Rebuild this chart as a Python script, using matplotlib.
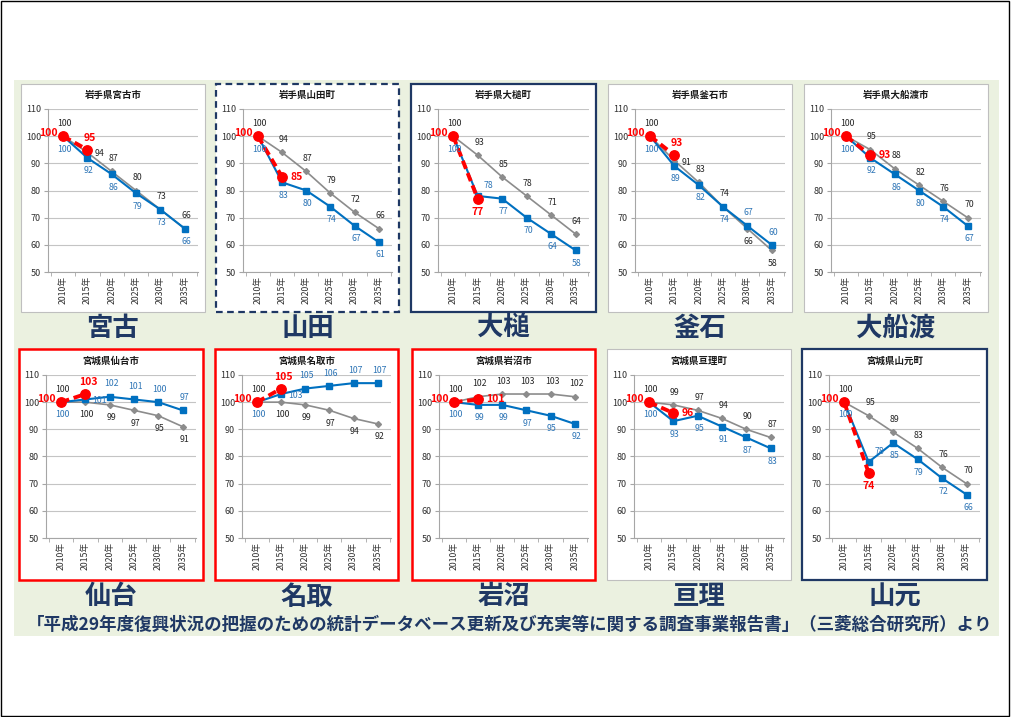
import matplotlib
matplotlib.use('Agg')
import matplotlib.pyplot as plt
from matplotlib.patches import Rectangle

plt.rcParams['font.family'] = ['Noto Sans CJK JP', 'DejaVu Sans']

# ---- data -------------------------------------------------------------
years = ['2010年', '2015年', '2020年', '2025年', '2030年', '2035年']

panel_titles = ['岩手県宮古市', '岩手県山田町', '岩手県大槌町', '岩手県釜石市', '岩手県大船渡市',
                '宮城県仙台市', '宮城県名取市', '宮城県岩沼市', '宮城県亘理町', '宮城県山元町']
town_names = ['宮古', '山田', '大槌', '釜石', '大船渡',
              '仙台', '名取', '岩沼', '亘理', '山元']

# earlier projection (index, 2010 = 100)
previous_projection = [
    [100, 94, 87, 80, 73, 66],
    [100, 94, 87, 79, 72, 66],
    [100, 93, 85, 78, 71, 64],
    [100, 91, 83, 74, 66, 58],
    [100, 95, 88, 82, 76, 70],
    [100, 100, 99, 97, 95, 91],
    [100, 100, 99, 97, 94, 92],
    [100, 102, 103, 103, 103, 102],
    [100, 99, 97, 94, 90, 87],
    [100, 95, 89, 83, 76, 70],
]
# revised projection (index, 2010 = 100)
revised_projection = [
    [100, 92, 86, 79, 73, 66],
    [100, 83, 80, 74, 67, 61],
    [100, 78, 77, 70, 64, 58],
    [100, 89, 82, 74, 67, 60],
    [100, 92, 86, 80, 74, 67],
    [100, 101, 102, 101, 100, 97],
    [100, 103, 105, 106, 107, 107],
    [100, 99, 99, 97, 95, 92],
    [100, 93, 95, 91, 87, 83],
    [100, 78, 85, 79, 72, 66],
]
# census result 2010 -> 2015
census_actual = [
    [100, 95], [100, 85], [100, 77], [100, 93], [100, 93],
    [100, 103], [100, 105], [100, 101], [100, 96], [100, 74],
]

source_note = ('「平成29年度復興状況の把握のための統計データベース更新及び充実等に関する'
               '調査事業報告書」（三菱総合研究所）より')

# ---- layout / style ---------------------------------------------------
W, H = 1011, 717
frame_styles = ['plain', 'navy_dashed', 'navy', 'plain', 'plain',
                'red', 'red', 'red', 'plain', 'navy']
red_label_side = ['above', 'right', 'below', 'above', 'right',
                  'above', 'above', 'right', 'right', 'below']

box_x = [(21, 205), (216, 399), (411, 596), (608, 792), (804, 988),
         (19, 203), (215, 398), (412, 595), (607, 791), (802, 987)]
row_box_y = [(84, 312), (349, 580)]
row_axes_y = [(109, 272), (375, 538)]
row_title_y = [95, 361]
row_name_y = [328, 597]

NAVY = '#1f3864'
GRAY_LINE = '#8c8c8c'
BLUE_LINE = '#0070c0'
BLUE_TEXT = '#2e75b6'
RED = '#ff0000'


def fx(x):
    return x / W


def fy(y):
    return 1 - y / H


fig = plt.figure(figsize=(W / 100, H / 100), dpi=100)
fig.patch.set_facecolor('white')

# light green backdrop
fig.add_artist(Rectangle((fx(14), fy(636)), (999 - 14) / W, (636 - 80) / H,
                         transform=fig.transFigure, facecolor='#ebf1e0',
                         edgecolor='none', zorder=0))
# outer frame
fig.add_artist(Rectangle((0.001, 0.002), 0.997, 0.996, transform=fig.transFigure,
                         fill=False, edgecolor='black', lw=1.0, zorder=10))

frame_kw = {
    'plain': dict(edgecolor='#bfbfbf', lw=0.8, ls='-'),
    'navy_dashed': dict(edgecolor=NAVY, lw=1.6, ls=(0, (3, 2))),
    'navy': dict(edgecolor=NAVY, lw=1.6, ls='-'),
    'red': dict(edgecolor=RED, lw=1.8, ls='-'),
}

x = list(range(len(years)))
label_fs = 6.3

for k in range(len(panel_titles)):
    row = k // 5
    l, r = box_x[k]
    t, b = row_box_y[row]
    fig.add_artist(Rectangle((fx(l), fy(b)), (r - l) / W, (b - t) / H,
                             transform=fig.transFigure, facecolor='white',
                             zorder=1, **frame_kw[frame_styles[k]]))

    at, ab = row_axes_y[row]
    ax = fig.add_axes([fx(l + 27), fy(ab), (r - 7 - l - 27) / W, (ab - at) / H])
    ax.set_zorder(2)
    ax.patch.set_alpha(0)
    ax.set_xlim(-0.62, 5.55)
    ax.set_ylim(50, 110)
    ax.set_yticks(range(50, 111, 10))
    ax.yaxis.grid(True, color='#c4c4c4', lw=0.8)
    ax.set_axisbelow(True)
    for s in ('top', 'right'):
        ax.spines[s].set_visible(False)
    for s in ('left', 'bottom'):
        ax.spines[s].set_color('#a6a6a6')
        ax.spines[s].set_linewidth(0.8)
    ax.set_xticks(x)
    ax.set_xticklabels(years, rotation=90, fontsize=6.3, color='#303030')
    ax.set_xticks([i - 0.5 for i in range(len(years) + 1)], minor=True)
    ax.tick_params(axis='x', which='major', length=0, pad=3)
    ax.tick_params(axis='x', which='minor', length=3, color='#a6a6a6')
    ax.tick_params(axis='y', length=3, color='#a6a6a6', labelsize=6.5,
                   labelcolor='#303030', pad=2)

    prev = previous_projection[k]
    rev = revised_projection[k]
    act = census_actual[k]
    side = red_label_side[k]

    ax.plot(x, prev, color=GRAY_LINE, lw=1.2, marker='D', ms=3.0, zorder=3)
    ax.plot(x, rev, color=BLUE_LINE, lw=1.5, marker='s', ms=3.8, zorder=4)
    ax.plot(x[:2], act, color=RED, lw=2.8, ls=(0, (2.2, 1.2)), zorder=5)
    ax.plot(x[:2], act, color=RED, lw=0, marker='o', ms=6.8, zorder=6)

    # value labels: higher series above its point, lower below
    for i in x:
        gray_up = i == 0 or prev[i] >= rev[i]
        specs = [(prev[i], '#262626', gray_up), (rev[i], BLUE_TEXT, not gray_up)]
        for val, col, up in specs:
            off, ha, va = ((1, 6), 'center', 'bottom') if up else ((1, -6), 'center', 'top')
            if i == 1 and up and side == 'above':
                # make room for the census label above the point
                off, ha, va = (5, -1), 'left', 'center'
            if i == 1 and not up and side == 'below':
                off, ha, va = (4, 4), 'left', 'bottom'
            ax.annotate(str(val), (i, val), xytext=off, textcoords='offset points',
                        ha=ha, va=va, fontsize=label_fs, color=col, zorder=7)

    ax.annotate(str(act[0]), (0, act[0]), xytext=(-4, 2), textcoords='offset points',
                ha='right', va='center', fontsize=7.5, fontweight='bold',
                color=RED, zorder=8)
    if side == 'above':
        off, ha, va = (2, 5), 'center', 'bottom'
    elif side == 'below':
        off, ha, va = (0, -6), 'center', 'top'
    else:
        off, ha, va = (6, 0), 'left', 'center'
    ax.annotate(str(act[1]), (1, act[1]), xytext=off, textcoords='offset points',
                ha=ha, va=va, fontsize=7.5, fontweight='bold', color=RED, zorder=8)

    cx = fx((l + r) / 2)
    fig.text(cx, fy(row_title_y[row]), panel_titles[k], ha='center', va='center',
             fontsize=6.8, fontweight='bold', color='#1a1a1a', zorder=9)
    fig.text(cx, fy(row_name_y[row]), town_names[k], ha='center', va='center',
             fontsize=19, fontweight='bold', color=NAVY, zorder=9)

fig.text(fx(510), fy(625), source_note, ha='center', va='center', fontsize=12.6,
         fontweight='bold', color=NAVY, zorder=9)

fig.savefig('out.png', dpi=100, facecolor='white')
